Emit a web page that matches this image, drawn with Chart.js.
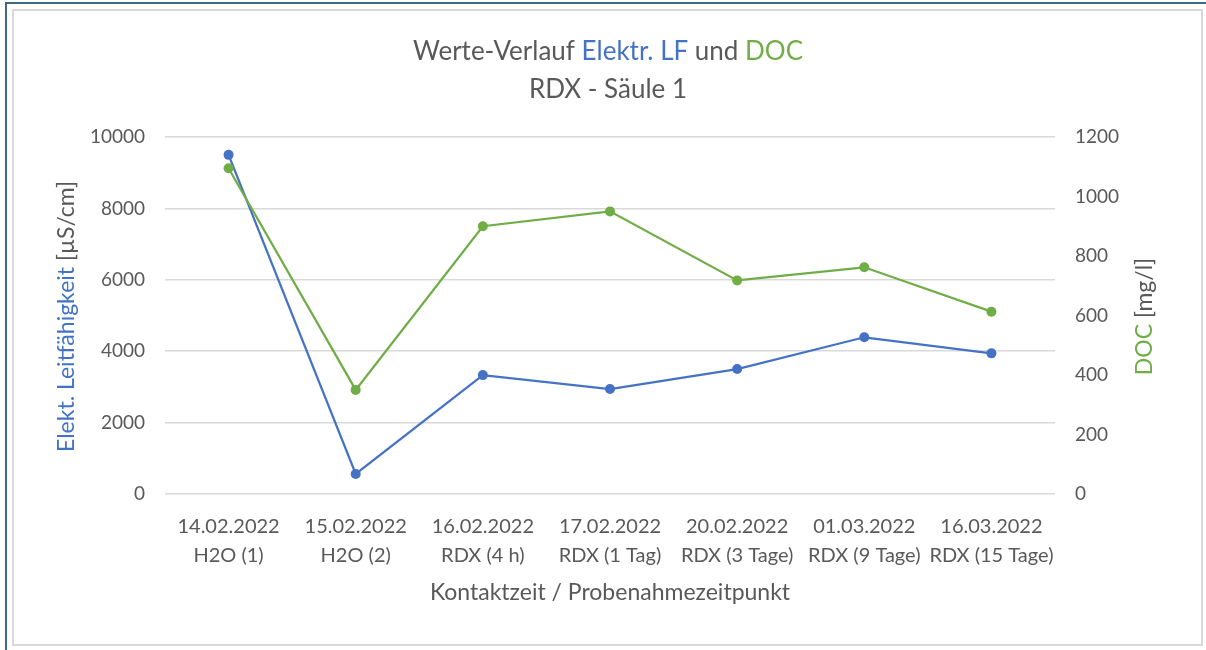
<!DOCTYPE html>
<html>
<head>
<meta charset="utf-8">
<script src="https://cdn.jsdelivr.net/npm/chart.js@4"></script>
<style>
    body { margin: 0; background: #fff; width: 1206px; height: 650px; overflow: hidden; position: relative; }
    #frame { position: absolute; left: 5px; top: 2px; width: 1300px; height: 700px; border-left: 2px solid #3e6a85; border-top: 2px solid #3e6a85; }
    #box { position: absolute; left: 12px; top: 9px; width: 1187px; height: 633px; border: 2px solid #d9d9d9; background: #fff; }
    #chart { display: block; }
</style>
</head>
<body>
<div id="frame"></div>
<div id="box"><canvas id="chart" width="1187" height="633"></canvas></div>
<script>
const dates = ['14.02.2022', '15.02.2022', '16.02.2022', '17.02.2022', '20.02.2022', '01.03.2022', '16.03.2022']
const samples = ['H2O (1)', 'H2O (2)', 'RDX (4 h)', 'RDX (1 Tag)', 'RDX (3 Tage)', 'RDX (9 Tage)', 'RDX (15 Tage)']
const lfValues = [9500, 560, 3330, 2940, 3500, 4390, 3940]
const docValues = [1095, 350, 900, 950, 718, 762, 613]
const lfTicks = [0, 2000, 4000, 6000, 8000, 10000]
const docTicks = [0, 200, 400, 600, 800, 1000, 1200]

const BLUE = '#4472c4'
const GREEN = '#70ad47'
const GREY = '#595959'
const FONT = 'Lato'

const labels = dates.map((d, i) => [d, samples[i]])

// titles with coloured parts, Chart.js can only do one colour per title
const titleLine1 = [
    { text: 'Werte-Verlauf ', color: GREY },
    { text: 'Elektr. LF', color: BLUE },
    { text: ' und ', color: GREY },
    { text: 'DOC', color: GREEN },
]
const titleLine2 = [{ text: 'RDX - Säule 1', color: GREY }]
const lfTitle = [
    { text: 'Elekt. Leitfähigkeit ', color: BLUE },
    { text: '[µS/cm]', color: GREY },
]
const docTitle = [
    { text: 'DOC ', color: GREEN },
    { text: '[mg/l]', color: GREY },
]

function drawRich(ctx, parts, x, y, rotation, font) {
    ctx.save()
    ctx.font = font
    ctx.textBaseline = 'middle'
    ctx.textAlign = 'left'
    ctx.translate(x, y)
    ctx.rotate(rotation)
    let total = 0
    parts.forEach(p => { total += ctx.measureText(p.text).width })
    let pos = -total / 2
    parts.forEach(p => {
        ctx.fillStyle = p.color
        ctx.fillText(p.text, pos, 0)
        pos += ctx.measureText(p.text).width
    })
    ctx.restore()
}

const richText = {
    id: 'richText',
    afterDraw(chart) {
        const ctx = chart.ctx
        const area = chart.chartArea
        const midX = (area.left + area.right) / 2
        const midY = (area.top + area.bottom) / 2
        drawRich(ctx, titleLine1, midX - 2, 41, 0, '26px ' + FONT)
        drawRich(ctx, titleLine2, midX - 2, 79, 0, '26px ' + FONT)
        drawRich(ctx, lfTitle, chart.scales.y.left + 53, midY + 1, -Math.PI / 2, '23px ' + FONT)
        drawRich(ctx, docTitle, chart.scales.y1.right - 56, midY + 1, -Math.PI / 2, '23px ' + FONT)
    }
}

const plain = v => String(v)

const ctx = document.getElementById('chart').getContext('2d')
const chart = new Chart(ctx, {
    type: 'line',
    data: {
        labels: labels,
        datasets: [{
            label: 'Elektr. LF',
            data: lfValues,
            yAxisID: 'y',
            borderColor: BLUE,
            backgroundColor: BLUE,
            borderWidth: 2.25,
            pointRadius: 5,
            pointBorderWidth: 0,
            tension: 0,
            order: 2,
        }, {
            label: 'DOC',
            data: docValues,
            yAxisID: 'y1',
            borderColor: GREEN,
            backgroundColor: GREEN,
            borderWidth: 2.25,
            pointRadius: 5,
            pointBorderWidth: 0,
            tension: 0,
            order: 1,
        }]
    },
    options: {
        responsive: false,
        animation: false,
        layout: {
            padding: { top: 126, left: 0, right: 0, bottom: 0 }
        },
        scales: {
            x: {
                offset: true,
                grid: { display: false },
                border: { display: false },
                ticks: {
                    color: GREY,
                    padding: 10,
                    maxRotation: 0,
                    autoSkip: false,
                    font: { family: FONT, size: 20, lineHeight: 1.45 },
                },
                title: {
                    display: true,
                    text: 'Kontaktzeit / Probenahmezeitpunkt',
                    color: GREY,
                    font: { family: FONT, size: 23 },
                    padding: { top: 0, bottom: 38 },
                },
                afterFit(scale) { scale.height = 150 },
            },
            y: {
                position: 'left',
                min: 0,
                max: 10000,
                afterBuildTicks(scale) { scale.ticks = lfTicks.map(v => ({ value: v })) },
                grid: { color: '#d9d9d9', lineWidth: 1.5, drawTicks: false },
                border: { display: false },
                ticks: {
                    color: GREY,
                    padding: 20,
                    font: { family: FONT, size: 19 },
                    callback: plain,
                },
                afterFit(scale) { scale.width = 151 },
            },
            y1: {
                position: 'right',
                min: 0,
                max: 1200,
                afterBuildTicks(scale) { scale.ticks = docTicks.map(v => ({ value: v })) },
                grid: { display: false, drawTicks: false },
                border: { display: false },
                ticks: {
                    color: GREY,
                    padding: 20,
                    font: { family: FONT, size: 19 },
                    callback: plain,
                },
                afterFit(scale) { scale.width = 146 },
            },
        },
        plugins: {
            legend: { display: false },
            tooltip: { enabled: false },
        }
    },
    plugins: [richText]
})
</script>
</body>
</html>
